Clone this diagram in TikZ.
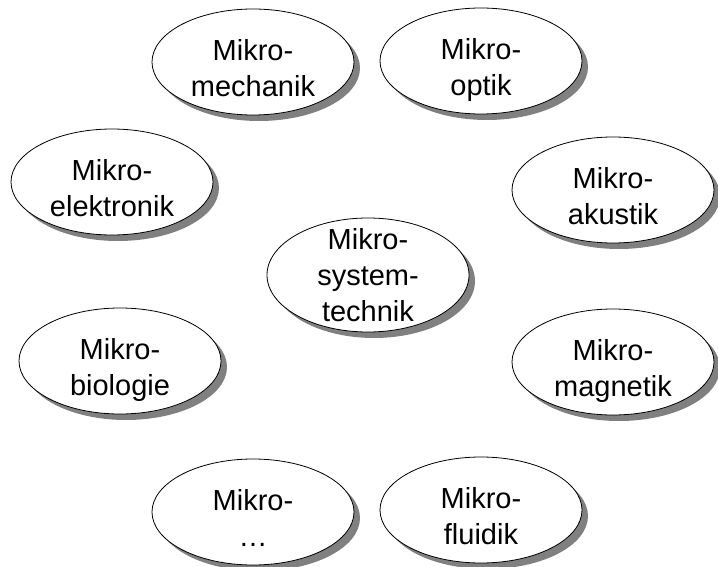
\documentclass[tikz,border=0pt]{standalone}
\usepackage{fontspec}
\setmainfont{Liberation Sans}
\usetikzlibrary{shapes.geometric,shadows}
\begin{document}
\begin{tikzpicture}[x=1pt,y=-1pt,
  blob/.style={ellipse, draw=black, line width=0.8pt, fill=white,
    minimum width=202pt, minimum height=106pt, inner sep=0pt,
    drop shadow={shadow xshift=6pt, shadow yshift=-6pt, fill=black!50, opacity=1}},
  lbl/.style={inner sep=0pt, align=center, font=\fontsize{29}{36}\selectfont}]
\useasboundingbox (0,0) rectangle (718,567);
\node[blob] (mech) at (253,62) {};
\node[blob] (opt) at (481,61) {};
\node[blob] (elek) at (112,182) {};
\node[blob] (akus) at (613,190) {};
\node[blob, minimum height=114pt] (sys) at (368,275) {};
\node[blob] (bio) at (120,361) {};
\node[blob] (mag) at (613,362) {};
\node[blob] (dots) at (253,512) {};
\node[blob] (flu) at (481,510) {};
\node[lbl] (mechT) at ([yshift=-9pt]mech.center) {Mikro-\\mechanik\vphantom{p}};
\node[lbl] (optT) at ([yshift=-9pt]opt.center) {Mikro-\\optik\vphantom{p}};
\node[lbl] (elekT) at ([yshift=-9pt]elek.center) {Mikro-\\elektronik\vphantom{p}};
\node[lbl] (akusT) at ([yshift=-9pt]akus.center) {Mikro-\\akustik\vphantom{p}};
\node[lbl] (sysT) at ([yshift=-3pt]sys.center) {Mikro-\\system-\\technik\vphantom{p}};
\node[lbl] (bioT) at ([yshift=-9pt]bio.center) {Mikro-\\biologie\vphantom{p}};
\node[lbl] (magT) at ([yshift=-9pt]mag.center) {Mikro-\\magnetik\vphantom{p}};
\node[lbl] (dotsT) at ([yshift=-9pt]dots.center) {Mikro-\\…\vphantom{p}};
\node[lbl] (fluT) at ([yshift=-9pt]flu.center) {Mikro-\\fluidik\vphantom{p}};
\end{tikzpicture}
\end{document}
